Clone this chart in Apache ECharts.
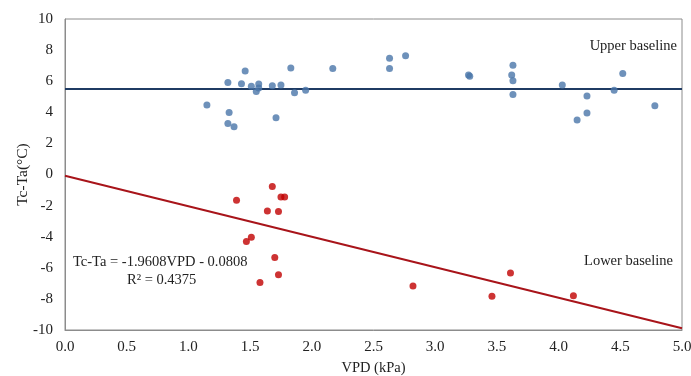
<!DOCTYPE html>
<html>
<head>
<meta charset="utf-8">
<script src="https://cdn.jsdelivr.net/npm/echarts@6/dist/echarts.min.js"></script>
<style>
  html, body { margin: 0; padding: 0; background: #fff; }
  #chart { width: 691px; height: 376px; }
</style>
</head>
<body>
<div id="chart"></div>
<script>
// upper points (VPD, Tc-Ta)
const upperVpd = [1.15, 1.32, 1.33, 1.32, 1.37, 1.43, 1.46, 1.51, 1.57, 1.55, 1.57, 1.68, 1.71, 1.75, 1.83, 1.86, 1.95, 2.17, 2.63, 2.63, 2.76, 3.27, 3.28, 3.63, 3.62, 3.63, 3.63, 4.03, 4.23, 4.15, 4.23, 4.45, 4.52, 4.78];
const upperTd = [4.47, 5.92, 3.99, 3.28, 3.07, 5.84, 6.66, 5.67, 5.82, 5.33, 5.56, 5.71, 3.65, 5.75, 6.85, 5.26, 5.41, 6.81, 7.47, 6.81, 7.64, 6.4, 6.32, 7.02, 6.4, 6.03, 5.15, 5.75, 5.05, 3.5, 3.95, 5.41, 6.5, 4.42];

// lower points
const lowerVpd = [1.39, 1.68, 1.75, 1.78, 1.64, 1.73, 1.51, 1.47, 1.70, 1.73, 1.58, 2.82, 3.61, 3.46, 4.12];
const lowerTd = [-1.66, -0.77, -1.44, -1.44, -2.34, -2.38, -4.03, -4.31, -5.34, -6.44, -6.95, -7.17, -6.33, -7.83, -7.79];

const upperBaseline = 5.5;
const slope = -1.9608;
const intercept = -0.0808;
const xTicks = [0, 5, 0.5];   // min, max, step
const yTicks = [-10, 10, 2];

const font = "Liberation Serif";
const chart = echarts.init(document.getElementById("chart"));

chart.setOption({
  animation: false,
  textStyle: { fontFamily: font },
  grid: {
    left: 65, right: 9, top: 19, bottom: 46,
    outerBoundsMode: "none", containLabel: false,
    show: true, borderColor: "#8c8c8c", borderWidth: 1
  },
  xAxis: {
    type: "value",
    min: xTicks[0], max: xTicks[1], interval: xTicks[2],
    name: "VPD (kPa)", nameLocation: "middle", nameGap: 31, nameMoveOverlap: false,
    nameTextStyle: { fontFamily: font, fontSize: 14.5, color: "#222" },
    axisLine: { onZero: false, lineStyle: { color: "#8c8c8c" } },
    axisTick: { show: false },
    splitLine: { show: false },
    axisLabel: { fontFamily: font, fontSize: 15, color: "#222", margin: 10, formatter: v => v.toFixed(1) }
  },
  yAxis: {
    type: "value",
    min: yTicks[0], max: yTicks[1], interval: yTicks[2],
    name: "Tc-Ta(°C)", nameLocation: "middle", nameGap: 34, nameRotate: 90, nameMoveOverlap: false,
    nameTextStyle: { fontFamily: font, fontSize: 15.5, color: "#222" },
    axisLine: { onZero: false, lineStyle: { color: "#8c8c8c" } },
    axisTick: { show: false },
    splitLine: { show: false },
    axisLabel: { fontFamily: font, fontSize: 15, color: "#222", margin: 12 }
  },
  series: [
    {
      type: "line",
      data: [[xTicks[0], upperBaseline], [xTicks[1], upperBaseline]],
      showSymbol: false,
      lineStyle: { color: "#1f3b63", width: 2 },
      z: 1
    },
    {
      type: "line",
      data: [[xTicks[0], slope * xTicks[0] + intercept], [xTicks[1], slope * xTicks[1] + intercept]],
      showSymbol: false,
      lineStyle: { color: "#a8141a", width: 2 },
      z: 1
    },
    {
      type: "scatter",
      data: upperVpd.map((v, i) => [v, upperTd[i]]),
      symbolSize: 7,
      itemStyle: { color: "#4a76a9" },
      z: 3
    },
    {
      type: "scatter",
      data: lowerVpd.map((v, i) => [v, lowerTd[i]]),
      symbolSize: 7,
      itemStyle: { color: "#c00000" },
      z: 3
    }
  ],
  graphic: [
    { type: "text", right: 14, top: 39, style: { text: "Upper baseline", font: "14.5px " + font, fill: "#222" } },
    { type: "text", right: 18, top: 254, style: { text: "Lower baseline", font: "14.5px " + font, fill: "#222" } },
    { type: "text", left: 73, top: 255, style: { text: "Tc-Ta = -1.9608VPD - 0.0808", font: "14.5px " + font, fill: "#222" } },
    { type: "text", left: 127, top: 273, style: { text: "R² = 0.4375", font: "14.5px " + font, fill: "#222" } }
  ]
});
</script>
</body>
</html>
